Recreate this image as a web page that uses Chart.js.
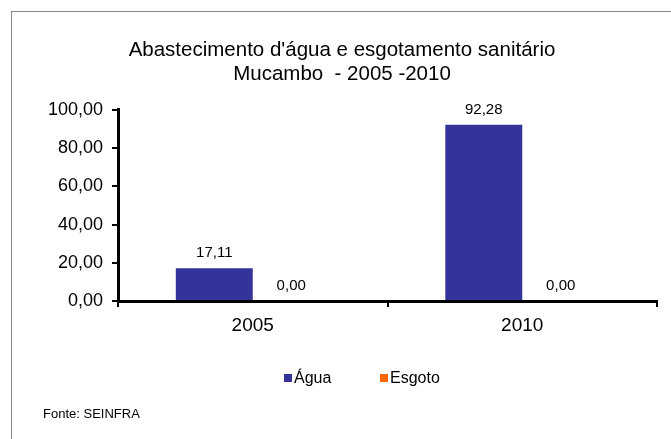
<!DOCTYPE html>
<html lang="pt">
<head>
    <meta charset="UTF-8">
    <title>Abastecimento d'água e esgotamento sanitário</title>
    <style>
        body { margin: 0; background: #fff; }
        #wrap { width: 671px; height: 439px; }
    </style>
    <script src="https://cdn.jsdelivr.net/npm/chart.js"></script>
</head>
<body>
    <div id="wrap"><canvas id="grafico"></canvas></div>

    <script>
        // dados
        const anos = ['2005', '2010'];
        const agua = [17.11, 92.28];
        const esgoto = [0.00, 0.00];
        const series = ['Água', 'Esgoto'];
        const cores = ['#333399', '#FF6600'];
        const ticksY = [0, 20, 40, 60, 80, 100];

        const fonte = 'Liberation Sans, Arial, sans-serif';
        const fmt = v => Number(v).toFixed(2).replace('.', ',');

        // moldura, rotulos, legenda e fonte
        const extras = {
            id: 'extras',
            beforeDraw(chart) {
                const ctx = chart.ctx;
                ctx.save();
                ctx.fillStyle = '#fff';
                ctx.fillRect(0, 0, chart.width, chart.height);
                ctx.strokeStyle = '#868686';
                ctx.lineWidth = 1;
                ctx.strokeRect(11.5, 11.5, 720, 520);
                ctx.restore();
            },
            afterDatasetsDraw(chart) {
                const ctx = chart.ctx;
                ctx.save();
                ctx.fillStyle = '#000';
                ctx.font = '15px ' + fonte;
                ctx.textAlign = 'center';
                ctx.textBaseline = 'alphabetic';
                chart.data.datasets.forEach((ds, i) => {
                    chart.getDatasetMeta(i).data.forEach((bar, j) => {
                        ctx.fillText(fmt(ds.data[j]), bar.x, bar.y - 11);
                    });
                });

                // legenda
                ctx.textAlign = 'left';
                ctx.font = '16px ' + fonte;
                const xs = [284, 380];
                chart.data.datasets.forEach((ds, i) => {
                    ctx.fillStyle = ds.backgroundColor;
                    ctx.fillRect(xs[i], 374, 8, 8);
                    ctx.fillStyle = '#000';
                    ctx.fillText(ds.label, xs[i] + 10, 383);
                });

                ctx.font = '13px ' + fonte;
                ctx.fillText('Fonte: SEINFRA', 43, 418);
                ctx.restore();
            }
        };

        new Chart(document.getElementById('grafico'), {
            type: 'bar',
            data: {
                labels: anos,
                datasets: [
                    { label: series[0], data: agua, backgroundColor: cores[0] },
                    { label: series[1], data: esgoto, backgroundColor: cores[1] }
                ]
            },
            options: {
                responsive: true,
                maintainAspectRatio: false,
                animation: false,
                events: [],
                categoryPercentage: 0.571,
                barPercentage: 1,
                layout: { padding: { left: 27, right: 14, top: 0, bottom: 98 } },
                plugins: {
                    legend: { display: false },
                    tooltip: { enabled: false },
                    title: {
                        display: true,
                        text: ["Abastecimento d'água e esgotamento sanitário", 'Mucambo  - 2005 -2010'],
                        color: '#000',
                        font: { family: fonte, size: 20.5, weight: 'normal', lineHeight: 1.17 },
                        padding: { top: 38, bottom: 24 }
                    }
                },
                scales: {
                    x: {
                        afterFit: s => { s.height = 40; },
                        grid: {
                            offset: true,
                            drawOnChartArea: false,
                            drawTicks: true,
                            tickLength: 6,
                            color: '#000',
                            lineWidth: 2
                        },
                        border: { display: true, color: '#000', width: 3 },
                        ticks: { color: '#000', padding: 7, font: { family: fonte, size: 19 } }
                    },
                    y: {
                        min: 0,
                        max: 100,
                        afterFit: s => { s.width = 91; },
                        afterBuildTicks: s => { s.ticks = ticksY.map(v => ({ value: v })); },
                        grid: {
                            drawOnChartArea: false,
                            drawTicks: true,
                            tickLength: 6,
                            color: '#000',
                            lineWidth: 2
                        },
                        border: { display: true, color: '#000', width: 3 },
                        ticks: {
                            color: '#000',
                            padding: 9,
                            font: { family: fonte, size: 18 },
                            callback: v => fmt(v)
                        }
                    }
                }
            },
            plugins: [extras]
        });
    </script>
</body>
</html>
